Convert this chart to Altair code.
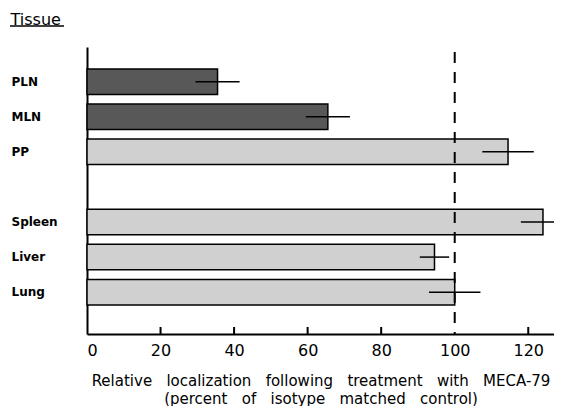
import altair as alt
import pandas as pd

# Data
tissues = ["PLN", "MLN", "PP", "Spleen", "Liver", "Lung"]
values = [35.5, 65.5, 114.5, 124.0, 94.5, 100.0]
errors = [6.0, 6.0, 7.0, 6.0, 4.0, 7.0]
groups = ["lymph", "lymph", "other", "other", "other", "other"]
tick_vals = [20, 40, 60, 80, 120]
ref_value = [100]
axis_labels = [0, 20, 40, 60, 80, 100, 120]
title_line1 = ["Relative", "localization", "following", "treatment", "with", "MECA-79"]
title_line2 = ["(percent", "of", "isotype", "matched", "control)"]

spacer = " "
y_domain = tissues[:3] + [spacer] + tissues[3:]

df = pd.DataFrame({
    "tissue": tissues,
    "value": values,
    "lo": [v - e for v, e in zip(values, errors)],
    "hi": [v + e for v, e in zip(values, errors)],
    "group": groups,
})
ticks_df = pd.DataFrame({"t": tick_vals})
ref_df = pd.DataFrame({"r": ref_value})

W, H = 467, 287
FONT = "DejaVu Sans"
GAP = "\u00a0\u00a0\u00a0"

xscale = alt.Scale(domain=[0, 127], nice=False, zero=True)
yscale = alt.Scale(domain=y_domain, paddingInner=0.273, paddingOuter=0.727, align=0.43)

x_axis = alt.Axis(
    values=axis_labels, tickSize=0, grid=False,
    domainColor="black", domainWidth=2,
    labelFont=FONT, labelFontSize=16, labelColor="black", labelPadding=8,
    title=[GAP.join(title_line1), GAP.join(title_line2)],
    titleFont=FONT, titleFontSize=15, titleFontWeight="normal", titleColor="black",
    titlePadding=15, titleLineHeight=18,
)
y_axis = alt.Axis(
    tickSize=0, grid=False, domainColor="black", domainWidth=2,
    labelFont=FONT, labelFontSize=12, labelFontWeight="bold", labelColor="black",
    labelAlign="left", labelPadding=76,
    title="Tissue", titleAngle=0, titleX=-77, titleY=-23, titleAlign="left",
    titleBaseline="alphabetic", titleFont=FONT, titleFontSize=16,
    titleFontWeight="normal", titleColor="black",
)

base = alt.Chart(df)

bars = base.mark_bar(stroke="black", strokeWidth=1.5).encode(
    x=alt.X("value:Q", scale=xscale, axis=x_axis),
    y=alt.Y("tissue:N", scale=yscale, axis=y_axis, sort=y_domain),
    color=alt.Color("group:N", scale=alt.Scale(domain=["lymph", "other"],
                                                range=["#585858", "#d0d0d0"]),
                    legend=None),
)

err = base.mark_rule(color="black", strokeWidth=1.5, clip=True).encode(
    x=alt.X("lo:Q", scale=xscale),
    x2="hi:Q",
    y=alt.Y("tissue:N", scale=yscale, sort=y_domain),
)

ref = alt.Chart(ref_df).mark_rule(color="black", strokeWidth=2, strokeDash=[11, 9]).encode(
    x=alt.X("r:Q", scale=xscale),
    y=alt.value(5),
    y2=alt.value(H),
)

ticks = alt.Chart(ticks_df).mark_rule(color="black", strokeWidth=2).encode(
    x=alt.X("t:Q", scale=xscale),
    y=alt.value(H - 7),
    y2=alt.value(H),
)

underline = alt.Chart(ref_df).mark_rule(color="black", strokeWidth=1.5).encode(
    x=alt.value(-77),
    x2=alt.value(-23),
    y=alt.value(-21),
)

chart = alt.layer(bars, err, ref, ticks, underline).properties(
    width=W, height=H,
    autosize=alt.AutoSizeParams(type="none"),
    padding={"left": 79, "top": 39, "right": 0, "bottom": 72},
    background="white",
).configure_view(stroke=None)

chart.save("out.html", embed_options={"renderer": "svg", "actions": False})
